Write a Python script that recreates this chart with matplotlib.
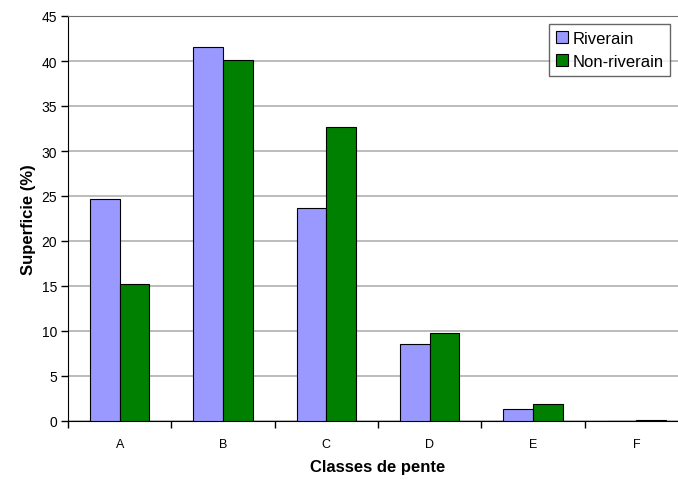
import matplotlib
matplotlib.use("Agg")
import matplotlib.pyplot as plt
import numpy as np

categories = ["A", "B", "C", "D", "E", "F"]
riverain = [24.7, 41.6, 23.7, 8.6, 1.3, 0.0]
non_riverain = [15.2, 40.1, 32.7, 9.8, 1.9, 0.15]
yticks = list(range(0, 46, 5))

plt.rcParams['font.family'] = ['Liberation Sans', 'DejaVu Sans']

fig = plt.figure(figsize=(6.78, 4.85), dpi=100)
ax = fig.add_axes([68/678, 63/485, 620/678, 405/485])

x = np.arange(len(categories))
w = 0.286
ax.bar(x - w/2, riverain, w, color="#9999ff", edgecolor="black", linewidth=0.8, label="Riverain", zorder=3)
ax.bar(x + w/2, non_riverain, w, color="#008000", edgecolor="black", linewidth=0.8, label="Non-riverain", zorder=3)

ax.set_xlim(-0.5, len(categories) - 0.5)
ax.set_ylim(0, 45)
ax.set_yticks(yticks)
ax.yaxis.grid(True, color="#b0b0b0", linewidth=1.2, zorder=0)
ax.set_axisbelow(True)

ax.set_xticks(x)
ax.set_xticklabels(categories, fontsize=9)
ax.tick_params(axis='x', length=0, pad=12)
ax.set_xticks(np.arange(-0.5, len(categories) + 0.5, 1), minor=True)
ax.tick_params(axis='x', which='minor', length=5, direction='out', width=1)
ax.tick_params(axis='y', length=5, direction='out', width=1, labelsize=10, pad=3)

ax.spines['right'].set_visible(False)
ax.spines['top'].set_color('#707070')
ax.spines['left'].set_color('black')
ax.spines['bottom'].set_color('black')

ax.set_xlabel("Classes de pente", fontsize=12, fontweight='bold', labelpad=7)
ax.set_ylabel("Superficie (%)", fontsize=12, fontweight='bold', labelpad=4)

leg = ax.legend(loc='upper left', bbox_to_anchor=(549/678, 1 - 25/485), bbox_transform=fig.transFigure,
                fontsize=12, frameon=True, fancybox=False, edgecolor='#404040',
                handlelength=0.75, handleheight=0.75, handletextpad=0.25, borderpad=0.4, labelspacing=0.5,
                borderaxespad=0)
leg.get_frame().set_linewidth(1)

fig.savefig("out.png", dpi=100)
